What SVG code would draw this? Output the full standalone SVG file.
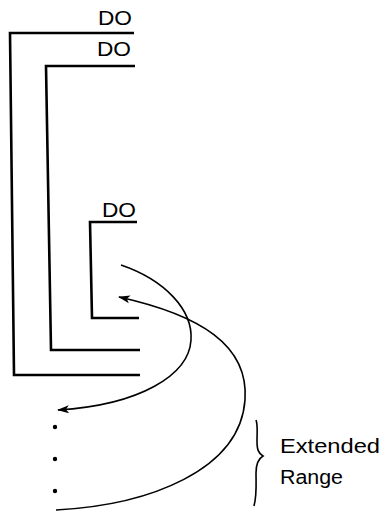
<svg xmlns="http://www.w3.org/2000/svg" width="385" height="511" viewBox="0 0 385 511">
<style>
  .bracket { fill: none; stroke: #000; stroke-width: 2.6; stroke-linejoin: miter; }
  .curve { fill: none; stroke: #000; stroke-width: 1.6; }
  .lbl { font-family: "Liberation Sans", Arial, sans-serif; font-size: 20px; fill: #000; }
  .dot { fill: #000; }
</style>
<defs>
  <marker id="arrow" viewBox="0 0 12 8" refX="11" refY="4" markerWidth="12" markerHeight="8" markerUnits="userSpaceOnUse" orient="auto">
    <path d="M0,0 L12,4 L0,8 L3,4 Z" fill="#000"/>
  </marker>
</defs>
<rect width="385" height="511" fill="#fff"/>
<g id="do-outer">
  <polyline class="bracket" points="134,33 10,33 14,375 140,375"/>
  <text class="lbl" x="98" y="25" textLength="34" lengthAdjust="spacingAndGlyphs">DO</text>
</g>
<g id="do-middle">
  <polyline class="bracket" points="135,66 46,66 51,350 140,350"/>
  <text class="lbl" x="97" y="56" textLength="34" lengthAdjust="spacingAndGlyphs">DO</text>
</g>
<g id="do-inner">
  <polyline class="bracket" points="137,222 90,222 92,318 139,318"/>
  <text class="lbl" x="102" y="217" textLength="34" lengthAdjust="spacingAndGlyphs">DO</text>
</g>
<g id="dots">
  <circle class="dot" cx="55" cy="427" r="2.2"/>
  <circle class="dot" cx="55" cy="459" r="2.2"/>
  <circle class="dot" cx="55" cy="491" r="2.2"/>
</g>
<g id="extended-range">
  <path d="M256,420 C258,425 257,432 257,441 C257,449 258,453 263,456 C258,459 256,464 256,473 C256,483 257,495 254,506" fill="none" stroke="#000" stroke-width="1.6"/>
  <text class="lbl" x="280" y="453" textLength="100" lengthAdjust="spacingAndGlyphs">Extended</text>
  <text class="lbl" x="280" y="484" textLength="63" lengthAdjust="spacingAndGlyphs">Range</text>
</g>
<g id="connectors">
  <path class="curve" d="M121,265 C165,280 193,310 191,340 C189,375 140,405 58,410" marker-end="url(#arrow)"/>
  <path class="curve" d="M56,510 C150,505 240,470 245,400 C249,345 200,315 119,297" marker-end="url(#arrow)"/>
</g>
</svg>
